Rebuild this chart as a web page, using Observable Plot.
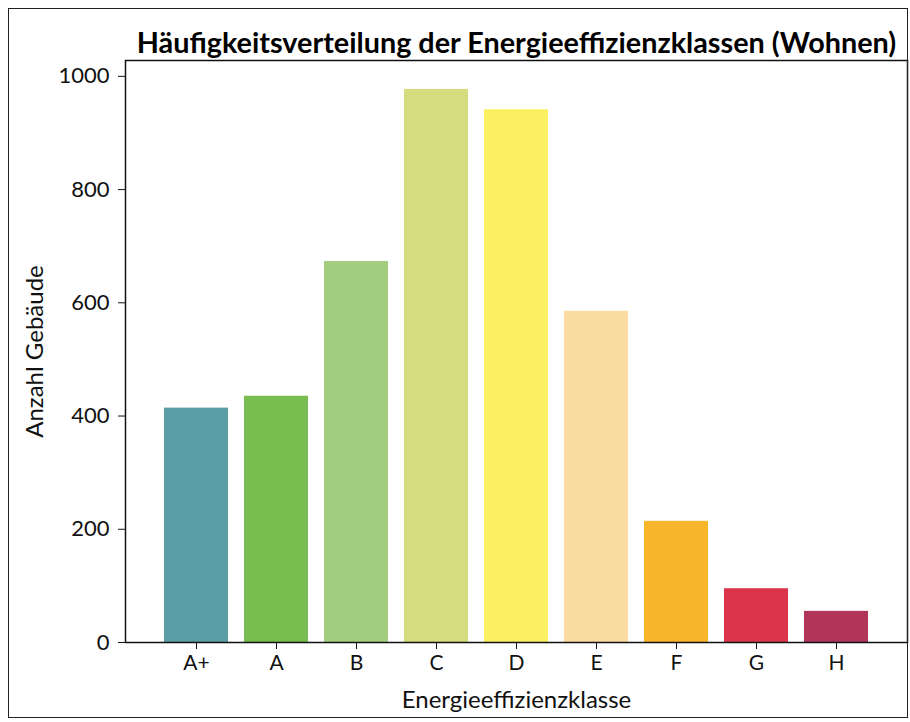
<!DOCTYPE html>
<html><head><meta charset="utf-8">
<script src="https://cdn.jsdelivr.net/npm/d3@7"></script>
<script src="https://cdn.jsdelivr.net/npm/@observablehq/plot@0.6"></script>
<style>
body{margin:0;background:#fff;}
#wrap{position:relative;width:910px;height:722px;}
#border{position:absolute;left:8px;top:8px;width:900px;height:710px;border:1.5px solid #222;box-sizing:border-box;pointer-events:none;}
</style></head>
<body><div id="wrap"><div id="border"></div></div>
<script>
const categories = ["A+","A","B","C","D","E","F","G","H"];
const counts = [414, 435, 673, 977, 941, 585, 214, 95, 55];
const colors = ["#5a9ea6","#78bd4f","#a3cd7f","#d5dc7e","#fbf060","#fbdca0","#f7b52a","#dc344b","#b03558"];
const yTicks = [0,200,400,600,800,1000];
const titleText = "Häufigkeitsverteilung der Energieeffizienzklassen (Wohnen)";
const xLabel = "Energieeffizienzklasse";
const yLabel = "Anzahl Gebäude";

const data = categories.map((c,i)=>({cat:c, n:counts[i], col:colors[i]}));
const font = "Lato, 'Open Sans', sans-serif";

const chart = Plot.plot({
  width: 910, height: 722,
  marginLeft: 125, marginRight: 3, marginTop: 60, marginBottom: 80,
  style: {fontFamily: font, fontSize: "21px", color: "#111", background: "transparent"},
  x: {domain: categories, paddingInner: 0.2, paddingOuter: 0.44},
  y: {domain: [0, 1028]},
  color: {type: "identity"},
  marks: [
    Plot.barY(data, {x: "cat", y: "n", fill: "col"}),
    Plot.frame({stroke: "#111", strokeWidth: 1.5}),
    Plot.axisX({tickSize: 7, tickPadding: 6, fontSize: 21, label: null}),
    Plot.axisY({ticks: yTicks, tickFormat: "d", tickSize: 7, tickPadding: 9, fontSize: 22, label: null}),
    Plot.text([xLabel], {frameAnchor: "bottom", lineAnchor: "bottom", dy: 65, fontSize: 24, fill: "#111"}),
    Plot.text([yLabel], {frameAnchor: "left", textAnchor: "middle", rotate: -90, lineAnchor: "bottom", dx: -83, fontSize: 24, fill: "#111"}),
    Plot.text([titleText], {frameAnchor: "top", lineAnchor: "bottom", dy: -8, fontSize: 28.8, fontWeight: "bold", fill: "#000"})
  ]
});
document.getElementById("wrap").prepend(chart);
</script>
</body></html>
